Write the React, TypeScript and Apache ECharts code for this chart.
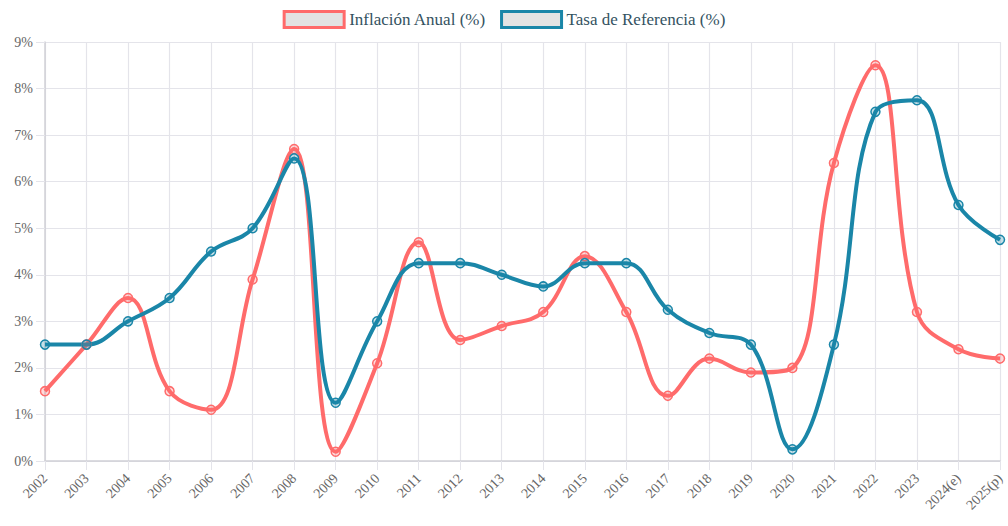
import React, { useEffect, useRef } from "react";
import * as echarts from "echarts";

const years = ["2002","2003","2004","2005","2006","2007","2008","2009","2010","2011","2012","2013","2014","2015","2016","2017","2018","2019","2020","2021","2022","2023","2024(e)","2025(p)"];
const inflacion = [1.5,2.5,3.5,1.5,1.1,3.9,6.7,0.2,2.1,4.7,2.6,2.9,3.2,4.4,3.2,1.4,2.2,1.9,2.0,6.4,8.5,3.2,2.4,2.2];
const tasa = [2.5,2.5,3.0,3.5,4.5,5.0,6.5,1.25,3.0,4.25,4.25,4.0,3.75,4.25,4.25,3.25,2.75,2.5,0.25,2.5,7.5,7.75,5.5,4.75];

const RED = "#ff6b6b";
const BLUE = "#1a86a8";
const FONT = "'Liberation Serif', 'DejaVu Serif', serif";

export default function App() {
  const ref = useRef<HTMLDivElement>(null);
  useEffect(() => {
    document.body.style.margin = "0";
    const chart = echarts.init(ref.current!, undefined, { renderer: "svg" });
    const mk = (name: string, data: number[], color: string, fill: string) => ({
      name,
      type: "line",
      data,
      smooth: 0.4,
      symbol: "circle",
      symbolSize: 9,
      showSymbol: true,
      lineStyle: { color, width: 4 },
      itemStyle: { color: fill, borderColor: color, borderWidth: 1.5 },
    });
    chart.setOption({
      animation: false,
      textStyle: { fontFamily: FONT },
      legend: {
        top: 5,
        left: "center",
        itemWidth: 60,
        itemHeight: 16,
        itemGap: 14,
        textStyle: { fontFamily: FONT, fontSize: 17, color: "#34525f" },
        data: [
          { name: "Inflación Anual (%)", icon: "rect", itemStyle: { color: "#e3e3e3", borderColor: RED, borderWidth: 3 } },
          { name: "Tasa de Referencia (%)", icon: "rect", itemStyle: { color: "#e3e3e3", borderColor: BLUE, borderWidth: 3 } },
        ],
      },
      grid: { left: 45, right: 8, top: 42, bottom: 65, containLabel: false },
      xAxis: {
        type: "category",
        data: years,
        boundaryGap: false,
        axisLine: { lineStyle: { color: "#d0d0d6", width: 1.5 } },
        axisTick: { show: true, length: 9, lineStyle: { color: "#e4e4ea" } },
        splitLine: { show: true, lineStyle: { color: "#e4e4ea", width: 1.2 } },
        axisLabel: { rotate: 45, fontFamily: FONT, fontSize: 14, color: "#666", margin: 15, interval: 0 },
      },
      yAxis: {
        type: "value",
        min: 0,
        max: 9,
        interval: 1,
        axisLine: { show: true, lineStyle: { color: "#d0d0d6", width: 1.5 } },
        axisTick: { show: true, length: 9, lineStyle: { color: "#e4e4ea" } },
        splitLine: { show: true, lineStyle: { color: "#e4e4ea", width: 1.2 } },
        axisLabel: { formatter: "{value}%", fontFamily: FONT, fontSize: 14, color: "#666", margin: 12 },
      },
      series: [
        mk("Inflación Anual (%)", inflacion, RED, "rgba(255,107,107,0.25)"),
        mk("Tasa de Referencia (%)", tasa, BLUE, "rgba(26,134,168,0.25)"),
      ],
    });
    return () => chart.dispose();
  }, []);
  return <div ref={ref} style={{ width: 1008, height: 526 }} />;
}
